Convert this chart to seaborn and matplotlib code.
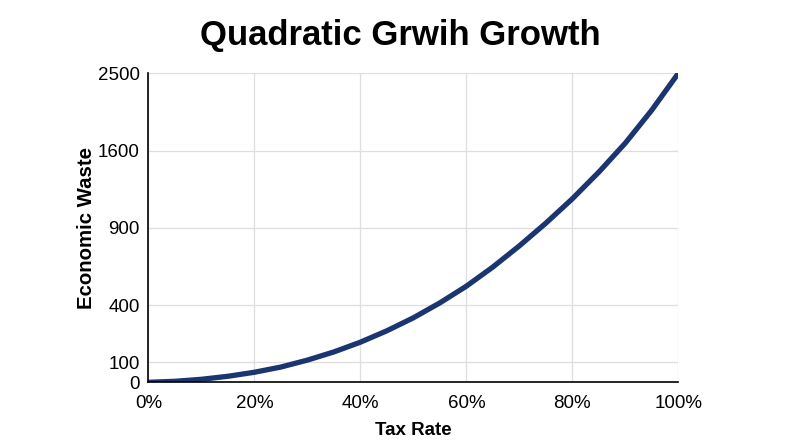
import numpy as np
import pandas as pd
import matplotlib
matplotlib.use("Agg")
import matplotlib.pyplot as plt
import seaborn as sns
from matplotlib.ticker import PercentFormatter, FixedLocator

# ---- data ----
tax_rate = [0.00, 0.05, 0.10, 0.15, 0.20, 0.25, 0.30, 0.35, 0.40, 0.45, 0.50,
            0.55, 0.60, 0.65, 0.70, 0.75, 0.80, 0.85, 0.90, 0.95, 1.00]
economic_waste = [0, 5, 15, 30, 50, 76, 111, 154, 205, 265, 333,
                  414, 522, 646, 783, 942, 1163, 1405, 1687, 2072, 2500]
y_tick_values = [0, 100, 400, 900, 1600, 2500]
x_tick_values = [0.0, 0.2, 0.4, 0.6, 0.8, 1.0]
title_text = "Quadratic Grwih Growth"
x_label = "Tax Rate"
y_label = "Economic Waste"

# ---- axis layout: where each y tick sits along the axis (fraction of height) ----
y_tick_positions = [0.0, 0.065, 0.25, 0.5, 0.75, 1.0]

def _fwd(v):
    v = np.asarray(v, dtype=float)
    out = np.interp(v, y_tick_values, y_tick_positions)
    s0 = (y_tick_positions[1] - y_tick_positions[0]) / (y_tick_values[1] - y_tick_values[0])
    s1 = (y_tick_positions[-1] - y_tick_positions[-2]) / (y_tick_values[-1] - y_tick_values[-2])
    out = np.where(v < y_tick_values[0], y_tick_positions[0] + (v - y_tick_values[0]) * s0, out)
    out = np.where(v > y_tick_values[-1], y_tick_positions[-1] + (v - y_tick_values[-1]) * s1, out)
    return out

def _inv(p):
    p = np.asarray(p, dtype=float)
    out = np.interp(p, y_tick_positions, y_tick_values)
    s0 = (y_tick_values[1] - y_tick_values[0]) / (y_tick_positions[1] - y_tick_positions[0])
    s1 = (y_tick_values[-1] - y_tick_values[-2]) / (y_tick_positions[-1] - y_tick_positions[-2])
    out = np.where(p < y_tick_positions[0], y_tick_values[0] + (p - y_tick_positions[0]) * s0, out)
    out = np.where(p > y_tick_positions[-1], y_tick_values[-1] + (p - y_tick_positions[-1]) * s1, out)
    return out

sns.set_style("whitegrid", {"grid.color": "#dedede", "axes.edgecolor": "black"})
plt.rcParams["font.family"] = ["Liberation Sans", "DejaVu Sans"]
plt.rcParams["text.color"] = "black"
plt.rcParams["axes.labelcolor"] = "black"
plt.rcParams["xtick.color"] = "black"
plt.rcParams["ytick.color"] = "black"

df = pd.DataFrame({"tax": tax_rate, "waste": economic_waste})

fig = plt.figure(figsize=(8.0, 4.47), dpi=100)
ax = fig.add_axes([0.1854, 0.1447, 0.6625, 0.6913])

ax.set_yscale("function", functions=(_fwd, _inv))

sns.lineplot(data=df, x="tax", y="waste", ax=ax, color="#1b3571",
             linewidth=3.8, solid_capstyle="butt", solid_joinstyle="round")

ax.set_xlim(0, 1)
ax.set_ylim(0, 2500)
ax.yaxis.set_major_locator(FixedLocator(y_tick_values))
ax.yaxis.set_minor_locator(FixedLocator([]))
ax.set_yticklabels([str(v) for v in y_tick_values])
ax.xaxis.set_major_locator(FixedLocator(x_tick_values))
ax.xaxis.set_major_formatter(PercentFormatter(xmax=1, decimals=0))

ax.grid(True, color="#dedede", linewidth=0.9)
for side in ["top", "right"]:
    ax.spines[side].set_visible(False)
for side in ["left", "bottom"]:
    ax.spines[side].set_color("black")
    ax.spines[side].set_linewidth(1.2)

ax.tick_params(axis="both", length=0, labelsize=13.5, colors="black")
ax.tick_params(axis="y", pad=6)
ax.tick_params(axis="x", pad=9)

ax.set_xlabel(x_label, fontsize=13.5, fontweight="bold", labelpad=7, color="black")
ax.set_ylabel(y_label, fontsize=14.7, fontweight="bold", labelpad=1.5, color="black")

fig.text(0.5, 1 - 45 / 447, title_text, ha="center", va="baseline",
         fontsize=25, fontweight="bold", color="black")

fig.savefig("out.png", dpi=100)
